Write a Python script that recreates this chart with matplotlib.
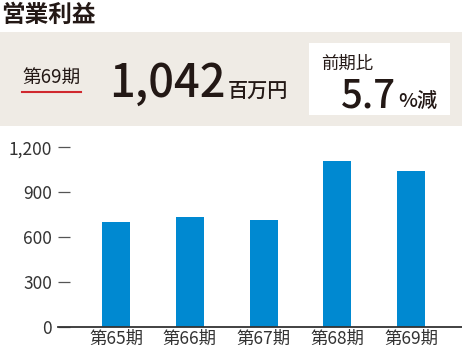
import matplotlib
matplotlib.use("Agg")
import matplotlib.pyplot as plt
from matplotlib.patches import Rectangle

plt.rcParams['font.family'] = ['Noto Sans CJK JP', 'DejaVu Sans']

categories = ["第65期", "第66期", "第67期", "第68期", "第69期"]
values = [702, 732, 714, 1106, 1042]
yticks = [0, 300, 600, 900, 1200]
ytick_labels = ["0", "300", "600", "900", "1,200"]

title = "営業利益"
period_label = "第69期"
headline_value = "1,042"
headline_unit = "百万円"
change_label = "前期比"
change_value = "5.7"
change_unit = "%減"

W, H = 462, 352
fig = plt.figure(figsize=(W / 100, H / 100), dpi=100)
fig.patch.set_facecolor("white")

def fx(x):
    return x / W

def fy(y):
    return 1 - y / H

TXT = "#231815"

# header band
fig.patches.append(Rectangle((0, fy(126)), 1, (126 - 32) / H, transform=fig.transFigure,
                             facecolor="#EFEBE5", edgecolor="none", zorder=0))
fig.patches.append(Rectangle((fx(309), fy(115)), (450 - 309) / W, (115 - 43) / H,
                             transform=fig.transFigure, facecolor="white", edgecolor="none", zorder=1))

fig.text(fx(1), fy(15), title, fontsize=17, fontweight="bold", color=TXT, va="center", ha="left")
fig.text(fx(22), fy(78), period_label, fontsize=13.5, color=TXT, va="center", ha="left")
fig.lines.append(plt.Line2D([fx(22), fx(81)], [fy(92), fy(92)], transform=fig.transFigure,
                            color="#D0282E", linewidth=1.5))
fig.text(fx(226), fy(97), headline_value, fontsize=32.5, fontweight="medium", color=TXT,
         va="baseline", ha="right")
fig.text(fx(228), fy(97), headline_unit, fontsize=14.5, fontweight="medium", color=TXT,
         va="baseline", ha="left")
fig.text(fx(321), fy(64), change_label, fontsize=12.5, color=TXT, va="center", ha="left")
fig.text(fx(396), fy(107), change_value, fontsize=27.5, fontweight="medium", color=TXT,
         va="baseline", ha="right")
fig.text(fx(398), fy(107), change_unit, fontsize=14.5, fontweight="medium", color=TXT,
         va="baseline", ha="left")

# chart
ax_left, ax_right = 58, 462
ax_top, ax_bottom = 147.3, 326.7
ax = fig.add_axes([fx(ax_left), fy(ax_bottom), (ax_right - ax_left) / W, (ax_bottom - ax_top) / H])
ax.set_facecolor("none")
x = list(range(len(categories)))
ax.bar(x, values, width=0.38, color="#0089D1", zorder=2)
ax.set_xlim(-0.786, 4.69)
ax.set_ylim(0, 1200)
ax.set_yticks(yticks)
ax.set_yticklabels(ytick_labels)
ax.set_xticks(x)
ax.set_xticklabels(categories)
for s in ["left", "top", "right"]:
    ax.spines[s].set_visible(False)
ax.spines["bottom"].set_color("#333333")
ax.spines["bottom"].set_linewidth(1.3)
ax.tick_params(axis="y", direction="in", length=8.6, width=0.9, color="#555555",
               pad=4.3, labelsize=12.5, labelcolor="#333333")
ax.tick_params(axis="x", length=0, pad=2, labelsize=12.5, labelcolor="#333333")

fig.savefig("out.png", dpi=100)
